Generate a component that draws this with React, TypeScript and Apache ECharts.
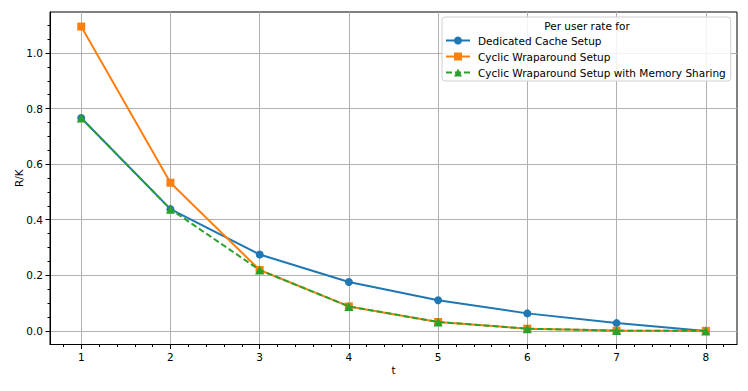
import React, { useEffect, useRef } from "react";
import * as echarts from "echarts";

const tValues = [1, 2, 3, 4, 5, 6, 7, 8];
const dedicated = [0.766, 0.438, 0.275, 0.176, 0.11, 0.063, 0.028, 0.0];
const cyclic = [1.095, 0.533, 0.219, 0.088, 0.032, 0.008, 0.001, 0.0];
const cyclicShared = [0.766, 0.438, 0.219, 0.088, 0.032, 0.008, 0.001, 0.0];

const xMajorTicks = [1, 2, 3, 4, 5, 6, 7, 8];
const xMinorTicks = [
  0.8, 1.2, 1.4, 1.6, 1.8, 2.2, 2.4, 2.6, 2.8, 3.2, 3.4, 3.6, 3.8, 4.2, 4.4, 4.6, 4.8,
  5.2, 5.4, 5.6, 5.8, 6.2, 6.4, 6.6, 6.8, 7.2, 7.4, 7.6, 7.8, 8.2,
];
const yMajorTicks = [0, 0.2, 0.4, 0.6, 0.8, 1.0];
const yMinorTicks = [
  0.05, 0.1, 0.15, 0.25, 0.3, 0.35, 0.45, 0.5, 0.55, 0.65, 0.7, 0.75, 0.85, 0.9,
  0.95, 1.05, 1.1,
];

const seriesNames = [
  "Dedicated Cache Setup",
  "Cyclic Wraparound Setup",
  "Cyclic Wraparound Setup with Memory Sharing",
];
const legendTitle = "Per user rate for";

const FONT = "DejaVu Sans";
const FS = 10.5;
const X_MIN = 0.65;
const X_MAX = 8.35;
const Y_MIN = -0.049;
const Y_MAX = 1.1475;

export default function App() {
  const ref = useRef<HTMLDivElement>(null);
  useEffect(() => {
    document.body.style.margin = "0";
    const chart = echarts.init(ref.current!, null, { renderer: "svg" });
    const pair = (ys: number[]) => tValues.map((t, i) => [t, ys[i]]);
    const baseX = {
      type: "value",
      min: X_MIN,
      max: X_MAX,
      position: "bottom",
      gridIndex: 0,
    };
    const baseY = {
      type: "value",
      min: Y_MIN,
      max: Y_MAX,
      position: "left",
      gridIndex: 0,
    };
    chart.setOption({
      animation: false,
      grid: {
        left: 50,
        right: 11,
        top: 12,
        bottom: 46.5,
        containLabel: false,
        outerBoundsMode: "none",
        show: true,
        borderColor: "#000",
        borderWidth: 1,
        backgroundColor: "#fff",
      },
      xAxis: [
        {
          ...baseX,
          name: "t",
          nameLocation: "middle",
          nameGap: 20,
          nameMoveOverlap: false,
          nameTextStyle: { fontFamily: FONT, fontSize: FS, color: "#000" },
          axisLine: { onZero: false, lineStyle: { color: "#000", width: 1 } },
          axisTick: { show: true, length: 4.5, customValues: xMajorTicks, lineStyle: { color: "#000" } },
          axisLabel: {
            customValues: xMajorTicks,
            margin: 6.5,
            fontFamily: FONT,
            fontSize: FS,
            color: "#000",
            formatter: (v: number) => String(v),
          },
          splitLine: { show: true, lineStyle: { color: "#b0b0b0", width: 1 } },
        },
        {
          ...baseX,
          axisLine: { show: false, onZero: false },
          axisTick: { show: true, length: 2.5, customValues: xMinorTicks, lineStyle: { color: "#000" } },
          axisLabel: { show: false },
          splitLine: { show: false },
        },
      ],
      yAxis: [
        {
          ...baseY,
          name: "R/K",
          nameLocation: "middle",
          nameGap: 26,
          nameMoveOverlap: false,
          nameTextStyle: { fontFamily: FONT, fontSize: FS, color: "#000" },
          axisLine: { onZero: false, lineStyle: { color: "#000", width: 1 } },
          axisTick: { show: true, length: 4.5, customValues: yMajorTicks, lineStyle: { color: "#000" } },
          axisLabel: {
            customValues: yMajorTicks,
            margin: 7,
            fontFamily: FONT,
            fontSize: FS,
            color: "#000",
            formatter: (v: number) => v.toFixed(1),
          },
          splitLine: { show: true, lineStyle: { color: "#b0b0b0", width: 1 } },
        },
        {
          ...baseY,
          axisLine: { show: false, onZero: false },
          axisTick: { show: true, length: 2.5, customValues: yMinorTicks, lineStyle: { color: "#000" } },
          axisLabel: { show: false },
          splitLine: { show: false },
        },
      ],
      legend: {
        orient: "vertical",
        left: 442,
        top: 17,
        padding: [18, 5, 3, 3],
        itemGap: 5,
        itemWidth: 24,
        itemHeight: 10,
        backgroundColor: "rgba(255,255,255,0.85)",
        borderColor: "#d0d0d0",
        borderWidth: 1,
        borderRadius: 3,
        textStyle: { fontFamily: FONT, fontSize: FS, color: "#000", padding: [0, 0, 0, 3] },
        data: seriesNames,
      },
      graphic: [
        {
          type: "text",
          x: 587,
          y: 26,
          z: 100,
          style: {
            text: legendTitle,
            fontFamily: FONT,
            fontSize: FS,
            fill: "#000",
            align: "center",
            verticalAlign: "middle",
          },
        },
      ],
      series: [
        {
          name: seriesNames[0],
          type: "line",
          xAxisIndex: 0,
          yAxisIndex: 0,
          data: pair(dedicated),
          symbol: "circle",
          symbolSize: 8,
          itemStyle: { color: "#1f77b4" },
          lineStyle: { color: "#1f77b4", width: 2 },
          z: 2,
        },
        {
          name: seriesNames[1],
          type: "line",
          xAxisIndex: 0,
          yAxisIndex: 0,
          data: pair(cyclic),
          symbol: "rect",
          symbolSize: 8,
          itemStyle: { color: "#ff7f0e" },
          lineStyle: { color: "#ff7f0e", width: 2 },
          z: 3,
        },
        {
          name: seriesNames[2],
          type: "line",
          xAxisIndex: 0,
          yAxisIndex: 0,
          data: pair(cyclicShared),
          symbol: "triangle",
          symbolSize: 9,
          itemStyle: { color: "#2ca02c" },
          lineStyle: { color: "#2ca02c", width: 2, type: [6, 3] },
          z: 4,
        },
      ],
    });
    return () => chart.dispose();
  }, []);
  return <div ref={ref} style={{ width: 748, height: 391 }} />;
}
